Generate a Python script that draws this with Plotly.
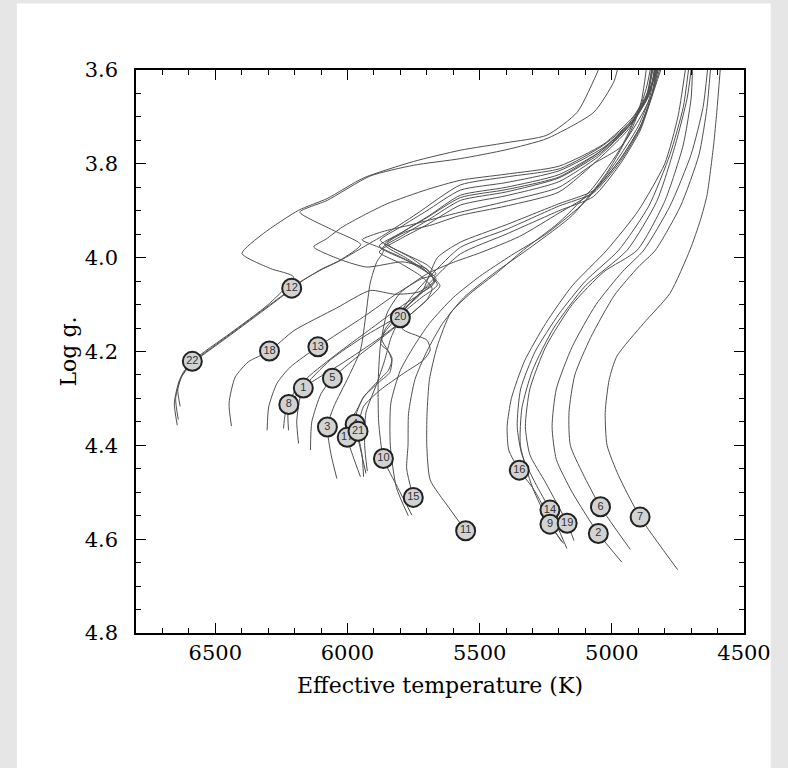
import plotly.graph_objects as go

# ---------------- evolutionary tracks (Teff [K], log g) ----------------
h1_teff = [6644, 6655, 6635, 6587, 6443, 6300, 6204, 6292, 6399, 6317, 6185, 6077, 5939, 5750, 5573, 5400, 5246, 5131, 5051]
h1_logg = [4.357, 4.31, 4.26, 4.221, 4.161, 4.10, 4.041, 4.023, 3.991, 3.948, 3.899, 3.874, 3.830, 3.795, 3.771, 3.755, 3.739, 3.69, 3.60]

h2_teff = [6633, 6642, 6622, 6590, 6443, 6300, 6211, 6172, 6100, 6027, 5950, 6060, 6180, 6077, 5914, 5750, 5573, 5400, 5245, 5068, 4993, 4979]
h2_logg = [4.317, 4.28, 4.245, 4.226, 4.165, 4.105, 4.067, 4.05, 4.025, 4.005, 3.972, 3.94, 3.903, 3.878, 3.826, 3.803, 3.789, 3.77, 3.746, 3.69, 3.626, 3.60]

e_teff = [6640, 6650, 6628, 6585, 6443, 6300, 6211, 6172, 6100, 6027, 5939, 5863, 5737, 5573, 5400, 5195, 5031, 4917, 4867, 4848]
e_logg = [4.345, 4.30, 4.255, 4.223, 4.163, 4.103, 4.066, 4.049, 4.026, 4.006, 3.977, 3.952, 3.906, 3.845, 3.828, 3.81, 3.76, 3.704, 3.654, 3.60]

b_teff = [6439, 6448, 6425, 6375, 6295, 6204, 6040, 5914, 5820, 5730, 5674, 5700, 5790, 5927, 6027, 6128, 6080, 6020, 5940, 5850, 5700, 5573, 5400, 5200, 5031, 4920, 4867, 4850]
b_logg = [4.359, 4.31, 4.255, 4.222, 4.199, 4.156, 4.107, 4.07, 4.078, 4.073, 4.05, 4.024, 4.009, 4.02, 4.004, 3.977, 3.96, 3.935, 3.91, 3.885, 3.855, 3.835, 3.822, 3.805, 3.758, 3.70, 3.65, 3.60]

t13_teff = [6304, 6298, 6267, 6216, 6112, 5939, 5812, 5720, 5665, 5700, 5790, 5876, 5800, 5700, 5573, 5400, 5200, 5031, 4920, 4860, 4838]
t13_logg = [4.368, 4.318, 4.268, 4.233, 4.190, 4.126, 4.076, 4.045, 4.035, 4.015, 3.99, 3.963, 3.935, 3.90, 3.856, 3.84, 3.815, 3.765, 3.71, 3.655, 3.60]

t1_teff = [6185, 6192, 6182, 6167, 6065, 5940, 5812, 5720, 5660, 5700, 5780, 5860, 5790, 5690, 5573, 5400, 5200, 5040, 4925, 4862, 4835]
t1_logg = [4.396, 4.35, 4.305, 4.278, 4.218, 4.169, 4.126, 4.085, 4.058, 4.03, 4.0, 3.972, 3.945, 3.91, 3.867, 3.85, 3.823, 3.772, 3.712, 3.655, 3.60]

t8_teff = [6242, 6236, 6222, 6160, 6020, 5880, 5760, 5690, 5650, 5690, 5780, 5868, 5790, 5690, 5573, 5400, 5200, 5045, 4930, 4865, 4830]
t8_logg = [4.364, 4.335, 4.313, 4.275, 4.225, 4.172, 4.12, 4.085, 4.06, 4.035, 4.005, 3.98, 3.952, 3.918, 3.878, 3.86, 3.83, 3.778, 3.716, 3.658, 3.60]

t8b_teff = [6223, 6225, 6205, 6150, 6040, 5920, 5800, 5720, 5670, 5710, 5800, 5880, 5800, 5700, 5573, 5400, 5200, 5050, 4935, 4868, 4832]
t8b_logg = [4.368, 4.33, 4.29, 4.255, 4.205, 4.155, 4.105, 4.075, 4.05, 4.025, 3.998, 3.975, 3.948, 3.915, 3.872, 3.855, 3.828, 3.776, 3.714, 3.656, 3.60]

t5_teff = [6140, 6135, 6100, 6057, 5960, 5850, 5760, 5700, 5680, 5720, 5800, 5880, 5800, 5700, 5573, 5400, 5200, 5050, 4935, 4870, 4826]
t5_logg = [4.41, 4.35, 4.29, 4.257, 4.21, 4.162, 4.12, 4.09, 4.065, 4.04, 4.012, 3.988, 3.96, 3.93, 3.888, 3.868, 3.838, 3.784, 3.72, 3.66, 3.60]

t3_teff = [6040, 6062, 6076, 6052, 5996, 5951, 5930, 5914, 5890, 5864, 5945, 5870, 5760, 5573, 5400, 5200, 5070, 4968, 4892, 4848, 4829]
t3_logg = [4.471, 4.42, 4.361, 4.318, 4.254, 4.197, 4.12, 4.054, 4.01, 3.984, 3.962, 3.945, 3.93, 3.903, 3.88, 3.85, 3.80, 3.765, 3.70, 3.652, 3.60]

t17_teff = [5951, 5978, 6001, 5990, 5960, 5939, 5888, 5845, 5831, 5850, 5870, 5855, 5800, 5720, 5660, 5573, 5400, 5200, 5070, 4968, 4892, 4848, 4825]
t17_logg = [4.467, 4.425, 4.383, 4.35, 4.32, 4.297, 4.265, 4.24, 4.215, 4.195, 4.175, 4.15, 4.115, 4.075, 4.0, 3.967, 3.93, 3.885, 3.857, 3.79, 3.72, 3.652, 3.60]

t21_teff = [5939, 5945, 5960, 5940, 5876, 5789, 5712, 5687, 5699, 5788, 5810, 5760, 5680, 5573, 5400, 5200, 5070, 4968, 4892, 4848, 4820]
t21_logg = [4.467, 4.42, 4.37, 4.318, 4.282, 4.247, 4.218, 4.197, 4.176, 4.154, 4.13, 4.085, 4.035, 3.978, 3.94, 3.89, 3.862, 3.795, 3.724, 3.654, 3.60]

t4_teff = [5930, 5950, 5971, 5965, 5939, 5880, 5840, 5832, 5845, 5875, 5863, 5800, 5700, 5573, 5400, 5200, 5070, 4968, 4892, 4848, 4815]
t4_logg = [4.46, 4.41, 4.355, 4.33, 4.297, 4.265, 4.245, 4.22, 4.2, 4.183, 4.162, 4.12, 4.06, 3.992, 3.95, 3.90, 3.87, 3.80, 3.728, 3.656, 3.60]

t20_teff = [5925, 5935, 5930, 5890, 5860, 5835, 5800, 5770, 5720, 5680, 5665, 5690, 5760, 5850, 5780, 5680, 5573, 5400, 5200, 5050, 4935, 4868, 4845]
t20_logg = [4.455, 4.40, 4.33, 4.27, 4.22, 4.17, 4.128, 4.10, 4.075, 4.06, 4.045, 4.03, 4.0, 3.97, 3.945, 3.93, 3.91, 3.89, 3.86, 3.79, 3.725, 3.66, 3.60]

t10_teff = [5756, 5810, 5864, 5882, 5884, 5876, 5850, 5800, 5700, 5600, 5500, 5350, 5200, 5070, 4968, 4892, 4850, 4833]
t10_logg = [4.549, 4.49, 4.428, 4.35, 4.27, 4.19, 4.118, 4.075, 4.035, 4.01, 3.99, 3.955, 3.905, 3.86, 3.79, 3.72, 3.655, 3.60]

td_teff = [5770, 5815, 5838, 5836, 5800, 5750, 5690, 5600, 5500, 5380, 5250, 5100, 4990, 4900, 4855, 4840]
td_logg = [4.55, 4.49, 4.40, 4.31, 4.24, 4.19, 4.14, 4.085, 4.04, 3.995, 3.95, 3.88, 3.80, 3.72, 3.655, 3.60]

t15_teff = [5751, 5776, 5771, 5769, 5745, 5700, 5640, 5560, 5450, 5300, 5150, 5020, 4920, 4870, 4855]
t15_logg = [4.511, 4.45, 4.40, 4.332, 4.26, 4.20, 4.14, 4.085, 4.035, 3.975, 3.91, 3.82, 3.72, 3.64, 3.60]

t11_teff = [5553, 5620, 5687, 5700, 5699, 5690, 5661, 5610, 5535, 5430, 5335, 5200, 5070, 4960, 4890, 4870]
t11_logg = [4.582, 4.53, 4.474, 4.40, 4.332, 4.26, 4.19, 4.118, 4.076, 4.03, 3.984, 3.925, 3.85, 3.76, 3.67, 3.60]

r16_teff = [5183, 5234, 5260, 5300, 5350, 5390, 5396, 5380, 5330, 5250, 5150, 5019, 4900, 4800, 4750, 4722]
r16_logg = [4.609, 4.568, 4.53, 4.49, 4.453, 4.41, 4.36, 4.30, 4.22, 4.14, 4.06, 3.984, 3.90, 3.80, 3.70, 3.60]

r14_teff = [5170, 5234, 5290, 5340, 5358, 5345, 5290, 5200, 5100, 4974, 4860, 4780, 4730, 4710]
r14_logg = [4.62, 4.538, 4.48, 4.42, 4.36, 4.28, 4.20, 4.12, 4.05, 3.984, 3.89, 3.78, 3.68, 3.60]

r9_teff = [5190, 5234, 5300, 5346, 5340, 5300, 5220, 5100, 4942, 4830, 4760, 4715, 4700]
r9_logg = [4.605, 4.568, 4.49, 4.40, 4.32, 4.24, 4.15, 4.06, 3.984, 3.88, 3.76, 3.66, 3.60]

r19_teff = [5143, 5169, 5250, 5310, 5327, 5310, 5250, 5150, 5030, 4904, 4800, 4730, 4700, 4695]
r19_logg = [4.603, 4.566, 4.48, 4.42, 4.36, 4.28, 4.19, 4.10, 4.03, 3.984, 3.88, 3.76, 3.66, 3.60]

r2_teff = [4962, 5051, 5150, 5210, 5226, 5210, 5150, 5060, 4960, 4879, 4780, 4700, 4655, 4638]
r2_logg = [4.649, 4.588, 4.50, 4.43, 4.36, 4.28, 4.19, 4.10, 4.03, 3.984, 3.89, 3.78, 3.68, 3.60]

r6_teff = [4930, 5043, 5110, 5157, 5162, 5140, 5080, 4990, 4900, 4835, 4740, 4670, 4640, 4627]
r6_logg = [4.622, 4.531, 4.46, 4.40, 4.33, 4.25, 4.17, 4.08, 4.02, 3.984, 3.89, 3.78, 3.68, 3.60]

r7_teff = [4751, 4893, 4975, 5018, 5025, 5010, 4981, 4880, 4780, 4704, 4665, 4640, 4615, 4603, 4590]
r7_logg = [4.665, 4.553, 4.464, 4.40, 4.33, 4.26, 4.21, 4.14, 4.076, 3.983, 3.92, 3.867, 3.76, 3.69, 3.60]

tracks = [
    (h1_teff, h1_logg), (h2_teff, h2_logg), (e_teff, e_logg), (b_teff, b_logg),
    (t13_teff, t13_logg), (t1_teff, t1_logg), (t8_teff, t8_logg), (t8b_teff, t8b_logg),
    (t5_teff, t5_logg), (t3_teff, t3_logg), (t17_teff, t17_logg), (t21_teff, t21_logg),
    (t4_teff, t4_logg), (t20_teff, t20_logg), (t10_teff, t10_logg), (td_teff, td_logg),
    (t15_teff, t15_logg), (t11_teff, t11_logg),
    (r16_teff, r16_logg), (r14_teff, r14_logg), (r9_teff, r9_logg), (r19_teff, r19_logg),
    (r2_teff, r2_logg), (r6_teff, r6_logg), (r7_teff, r7_logg),
]

# ---------------- observed stars (drawn in groups, back to front) ----------------
back_labels = ["4"]
back_teff = [5971]
back_logg = [4.355]

mid_labels = ["17", "14"]
mid_teff = [6001, 5234]
mid_logg = [4.383, 4.538]

star_labels = ["22", "18", "12", "13", "1", "8", "5", "3", "21", "20", "10", "15",
               "11", "16", "9", "19", "6", "2", "7"]
star_teff = [6587, 6295, 6211, 6112, 6167, 6222, 6057, 6076, 5960, 5800, 5864, 5751,
             5553, 5350, 5234, 5169, 5043, 5051, 4893]
star_logg = [4.221, 4.199, 4.065, 4.190, 4.278, 4.313, 4.257, 4.361, 4.370, 4.128, 4.428, 4.511,
             4.582, 4.453, 4.568, 4.566, 4.531, 4.588, 4.553]

x_ticks = [6500, 6000, 5500, 5000, 4500]
y_ticks = [3.6, 3.8, 4.0, 4.2, 4.4, 4.6, 4.8]

fig = go.Figure()

for tx, gy in tracks:
    fig.add_trace(go.Scatter(
        x=tx, y=gy, mode="lines",
        line=dict(color="#505050", width=1, shape="spline", smoothing=0.6),
        hoverinfo="skip", showlegend=False,
    ))

for lab, tx, gy in [(back_labels, back_teff, back_logg),
                    (mid_labels, mid_teff, mid_logg),
                    (star_labels, star_teff, star_logg)]:
    fig.add_trace(go.Scatter(
        x=tx, y=gy, mode="markers+text",
        text=lab, textposition="middle center",
        textfont=dict(family="Liberation Sans, Arial, sans-serif", size=11, color="#333333"),
        marker=dict(size=19, color="#d2d2d2", line=dict(color="#222222", width=2)),
        hoverinfo="skip", showlegend=False,
    ))

serif = "DejaVu Serif, serif"

fig.update_layout(
    width=788, height=768,
    margin=dict(l=136, r=44, t=70, b=135),
    paper_bgcolor="#e6e6e6",
    plot_bgcolor="white",
    font=dict(family=serif, size=20, color="black"),
    shapes=[dict(type="rect", xref="paper", yref="paper",
                 x0=-0.196, x1=1.044, y0=-0.40, y1=1.118,
                 fillcolor="white", line=dict(width=0), layer="below")],
)

fig.update_xaxes(
    range=[6800, 4500], tickvals=x_ticks, ticktext=[str(v) for v in x_ticks],
    ticks="inside", ticklen=10, tickwidth=1, tickcolor="black",
    showline=True, linecolor="black", linewidth=1.5, mirror="allticks",
    showgrid=False, zeroline=False,
    minor=dict(dtick=100, ticks="inside", ticklen=5, tickcolor="black", tickwidth=1, showgrid=False),
    tickfont=dict(family=serif, size=21),
    ticklabelstandoff=0,
    title=dict(text="Effective temperature (K)", font=dict(family=serif, size=22), standoff=14),
)
fig.update_yaxes(
    range=[4.8, 3.6], tickvals=y_ticks, ticktext=["%.1f" % v for v in y_ticks],
    ticks="inside", ticklen=10, tickwidth=1, tickcolor="black",
    showline=True, linecolor="black", linewidth=1.5, mirror="allticks",
    showgrid=False, zeroline=False,
    minor=dict(dtick=0.05, ticks="inside", ticklen=5, tickcolor="black", tickwidth=1, showgrid=False),
    tickfont=dict(family=serif, size=21),
    ticklabelstandoff=12,
    title=dict(text="Log g.", font=dict(family=serif, size=22), standoff=2),
)

fig.write_html("out.html")
